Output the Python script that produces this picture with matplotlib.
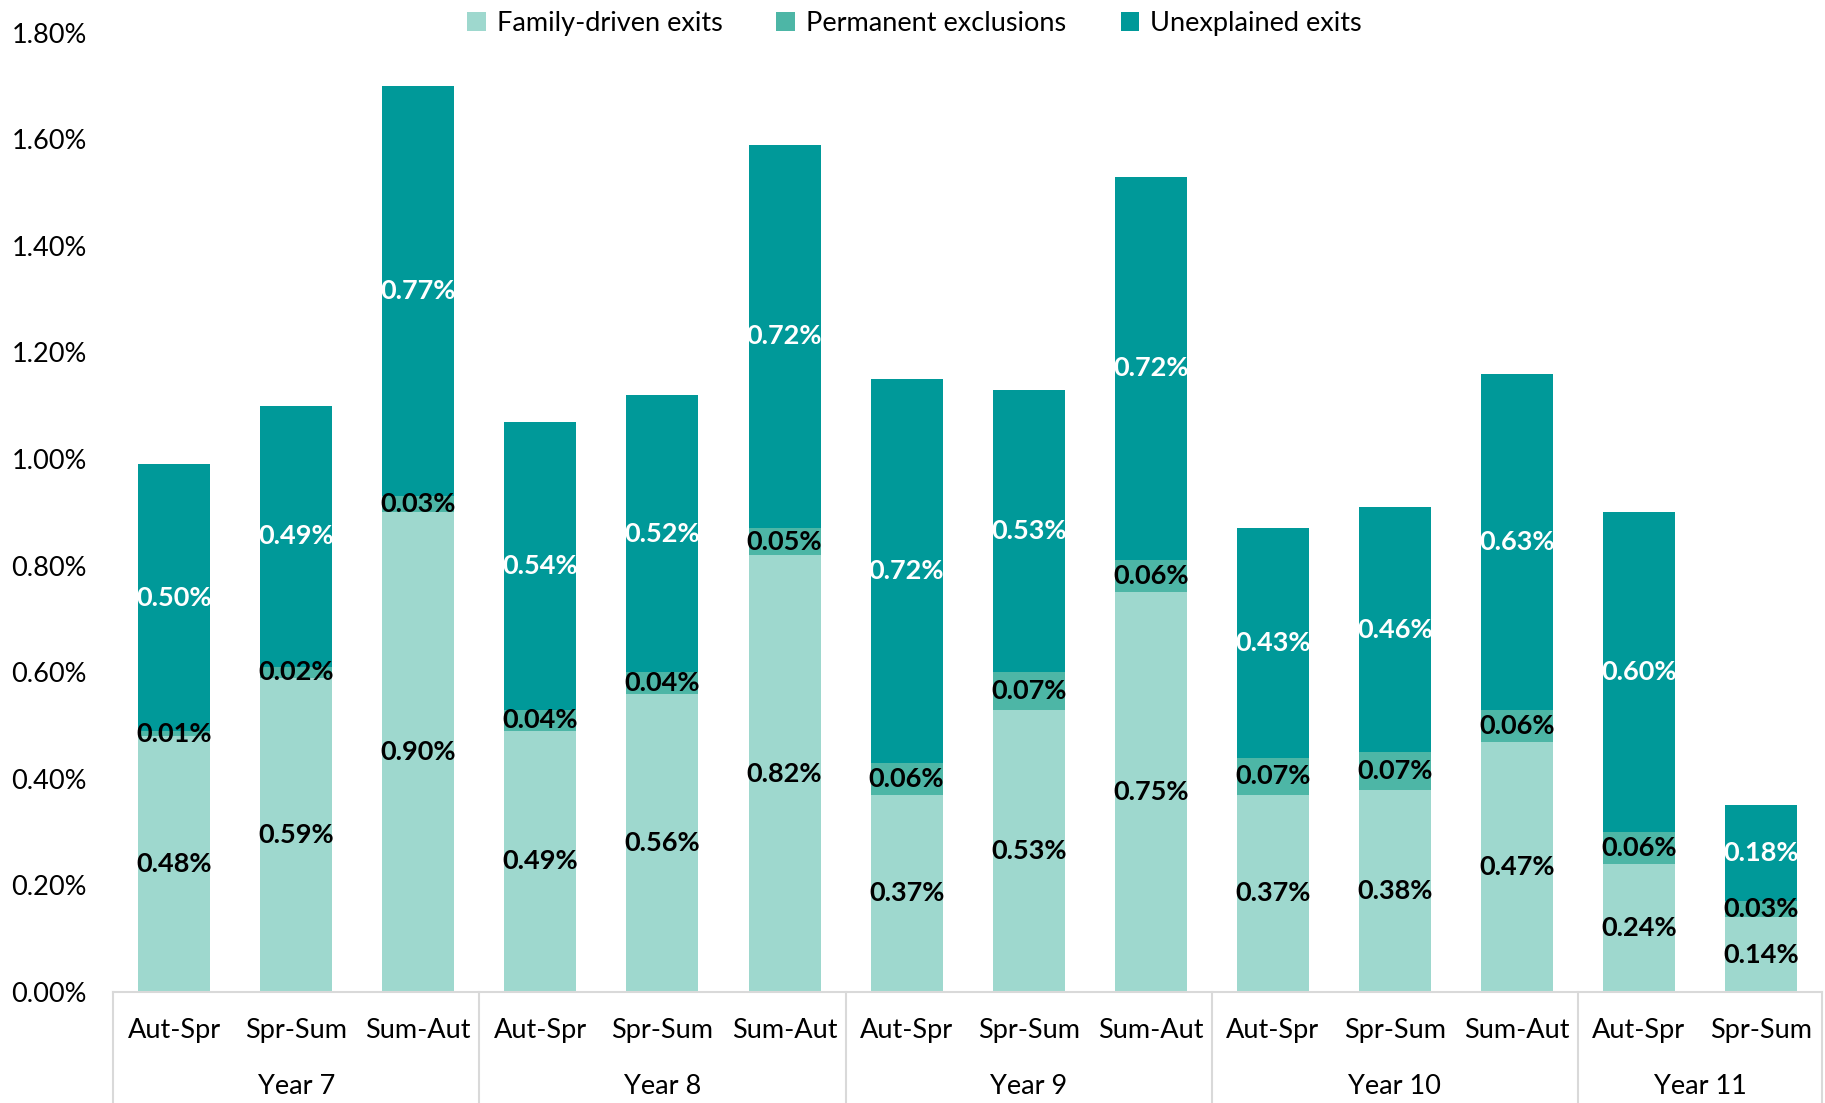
import matplotlib.pyplot as plt
import matplotlib.transforms as mtransforms
import numpy as np

plt.rcParams['font.family'] = ['Lato', 'DejaVu Sans']

years = ["Year 7", "Year 8", "Year 9", "Year 10", "Year 11"]
periods = ["Aut-Spr", "Spr-Sum", "Sum-Aut",
           "Aut-Spr", "Spr-Sum", "Sum-Aut",
           "Aut-Spr", "Spr-Sum", "Sum-Aut",
           "Aut-Spr", "Spr-Sum", "Sum-Aut",
           "Aut-Spr", "Spr-Sum"]
group_sizes = [3, 3, 3, 3, 2]

family = [0.48, 0.59, 0.90, 0.49, 0.56, 0.82, 0.37, 0.53, 0.75, 0.37, 0.38, 0.47, 0.24, 0.14]
perm = [0.01, 0.02, 0.03, 0.04, 0.04, 0.05, 0.06, 0.07, 0.06, 0.07, 0.07, 0.06, 0.06, 0.03]
unexpl = [0.50, 0.49, 0.77, 0.54, 0.52, 0.72, 0.72, 0.53, 0.72, 0.43, 0.46, 0.63, 0.60, 0.18]

c_fam = "#9ED8CE"
c_perm = "#4DB6A6"
c_unex = "#009999"

fig = plt.figure(figsize=(18.25, 11.03), dpi=100)
ax = fig.add_axes([0.062, 0.1006, 0.9364, 0.8698])

x = np.arange(len(periods))
fam = np.array(family)
pm = np.array(perm)
ue = np.array(unexpl)
w = 0.59

b1 = ax.bar(x, fam, w, color=c_fam, label="Family-driven exits")
b2 = ax.bar(x, pm, w, bottom=fam, color=c_perm, label="Permanent exclusions")
b3 = ax.bar(x, ue, w, bottom=fam + pm, color=c_unex, label="Unexplained exits")

lab_kw = dict(ha="center", va="center", fontsize=19.5, fontweight="bold")
for i in x:
    ax.text(i, fam[i] / 2, f"{fam[i]:.2f}%", color="black", **lab_kw)
    ax.text(i, fam[i] + pm[i] / 2, f"{pm[i]:.2f}%", color="black", **lab_kw)
    ax.text(i, fam[i] + pm[i] + ue[i] / 2, f"{ue[i]:.2f}%", color="white", **lab_kw)

ax.set_xlim(-0.5, len(periods) - 0.5)
ax.set_ylim(0, 1.8)
ax.set_yticks(np.arange(0, 1.81, 0.2))
ax.set_yticklabels([f"{v:.2f}%" for v in np.arange(0, 1.81, 0.2)], fontsize=19.5)
ax.set_xticks(x)
ax.set_xticklabels(periods, fontsize=19.5)
ax.tick_params(axis="x", length=0, pad=19)
ax.tick_params(axis="y", length=0, pad=19)

for s in ["top", "right", "left"]:
    ax.spines[s].set_visible(False)
ax.spines["bottom"].set_color("#D9D9D9")
ax.spines["bottom"].set_linewidth(1.5)

trans = mtransforms.blended_transform_factory(ax.transData, ax.transAxes)
bounds = np.concatenate([[0], np.cumsum(group_sizes)]) - 0.5
for b in bounds:
    ax.plot([b, b], [0, -0.13], color="#D9D9D9", lw=1.5, transform=trans, clip_on=False)
for k, yr in enumerate(years):
    cx = (bounds[k] + bounds[k + 1]) / 2
    ax.text(cx, -0.098, yr, ha="center", va="center", fontsize=19.5, transform=trans)

fig.legend(handles=[b1, b2, b3], loc="upper center", bbox_to_anchor=(0.501, 1.012),
           ncol=3, frameon=False, fontsize=19.5, handlelength=0.7, handleheight=0.7,
           columnspacing=2.0, handletextpad=0.4)

fig.savefig("out.png", dpi=100)
